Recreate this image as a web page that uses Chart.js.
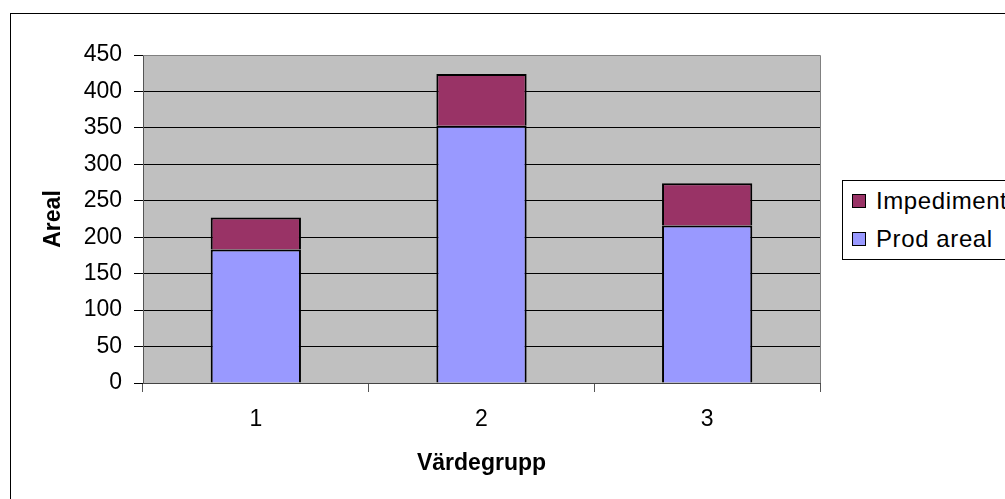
<!DOCTYPE html>
<html>
<head>
<meta charset="utf-8">
<script src="https://cdn.jsdelivr.net/npm/chart.js@4"></script>
<style>
  html, body { margin: 0; padding: 0; background: #fff; overflow: hidden; }
  #wrap { position: relative; width: 1005px; height: 499px; overflow: hidden; }
  #legend {
    position: absolute; left: 842px; top: 180px; width: 220px; height: 78px;
    border: 1px solid #000; background: #fff;
    font-family: "Liberation Sans", Arial, sans-serif; font-size: 24px; color: #000;
    letter-spacing: 0.6px;
  }
  .item { position: absolute; left: 9px; height: 30px; line-height: 30px; white-space: nowrap; }
  .box { display: inline-block; width: 12px; height: 12px; border: 1px solid #000; vertical-align: middle; margin-right: 10px; position: relative; top: -2px; }
</style>
</head>
<body>
<div id="wrap">
  <canvas id="chart" width="1005" height="499"></canvas>
  <div id="legend"></div>
</div>
<script>
'use strict';

/*** DATA ***/

var categories = ['1', '2', '3'];
var prodAreal = [183, 353, 216];
var impediment = [44, 71, 58];
var seriesNames = ['Prod areal', 'Impediment'];
var seriesColors = ['#9999FF', '#993366'];
var yTicks = [0, 50, 100, 150, 200, 250, 300, 350, 400, 450];

var fontFamily = '"Liberation Sans", Arial, sans-serif';
Chart.defaults.color = '#000';
Chart.defaults.font.family = fontFamily;

// gray plot area + outer frame
var plotBackground = {
  id: 'plotBackground',
  beforeDraw: function(chart) {
    var ctx = chart.ctx;
    var a = chart.chartArea;
    ctx.save();
    ctx.strokeStyle = '#000';
    ctx.lineWidth = 1;
    ctx.strokeRect(10.5, 13.5, 2000, 2000);
    ctx.fillStyle = '#C0C0C0';
    ctx.fillRect(a.left, a.top, a.right - a.left, a.bottom - a.top);
    ctx.restore();
  },
  afterDatasetsDraw: function(chart) {
    var ctx = chart.ctx;
    var a = chart.chartArea;
    ctx.save();
    ctx.strokeStyle = '#808080';
    ctx.lineWidth = 1;
    ctx.beginPath();
    ctx.moveTo(a.left, Math.round(a.top) + 0.5);
    ctx.lineTo(Math.round(a.right) + 0.5, Math.round(a.top) + 0.5);
    ctx.lineTo(Math.round(a.right) + 0.5, a.bottom);
    ctx.stroke();
    ctx.restore();
  }
};

var ctx = document.getElementById('chart').getContext('2d');
var chart = new Chart(ctx, {
  type: 'bar',
  data: {
    labels: categories,
    datasets: [{
      label: seriesNames[0],
      data: prodAreal,
      backgroundColor: seriesColors[0],
      borderColor: '#000',
      borderWidth: 2,
      barPercentage: 0.4,
      categoryPercentage: 1
    }, {
      label: seriesNames[1],
      data: impediment,
      backgroundColor: seriesColors[1],
      borderColor: '#000',
      borderWidth: 2,
      barPercentage: 0.4,
      categoryPercentage: 1
    }]
  },
  options: {
    responsive: false,
    animation: false,
    layout: { padding: { left: 0, top: 55, right: 185, bottom: 0 } },
    plugins: {
      legend: { display: false },
      tooltip: { enabled: false }
    },
    scales: {
      x: {
        stacked: true,
        offset: true,
        grid: { offset: true, drawOnChartArea: false, tickLength: 9, tickColor: '#555' },
        border: { color: '#444', width: 1 },
        ticks: { font: { size: 23 }, padding: 14 },
        title: { display: true, text: 'Värdegrupp', font: { size: 23, weight: 'bold' }, padding: { top: 0, bottom: 22 } },
        afterFit: function(scale) { scale.height = 116; }
      },
      y: {
        stacked: true,
        min: 0,
        max: 450,
        afterBuildTicks: function(scale) {
          scale.ticks = yTicks.map(function(v) { return { value: v }; });
        },
        grid: {
          color: function(c) { return c.tick && c.tick.value === 450 ? '#808080' : '#000'; },
          tickColor: '#000',
          tickLength: 9
        },
        border: { color: '#555', width: 1 },
        ticks: { font: { size: 23 }, padding: 12 },
        title: { display: true, text: 'Areal', font: { size: 23, weight: 'bold' }, padding: { top: 40, bottom: 0 } },
        afterFit: function(scale) { scale.width = 143; }
      }
    }
  },
  plugins: [plotBackground]
});

// legend box, built from the datasets (reversed like the reference)
var legend = document.getElementById('legend');
var items = chart.data.datasets.slice().reverse();
for (var i = 0; i < items.length; i++) {
  var row = document.createElement('div');
  row.className = 'item';
  row.style.top = (5 + i * 38) + 'px';
  var box = document.createElement('span');
  box.className = 'box';
  box.style.background = items[i].backgroundColor;
  row.appendChild(box);
  row.appendChild(document.createTextNode(items[i].label));
  legend.appendChild(row);
}
</script>
</body>
</html>
